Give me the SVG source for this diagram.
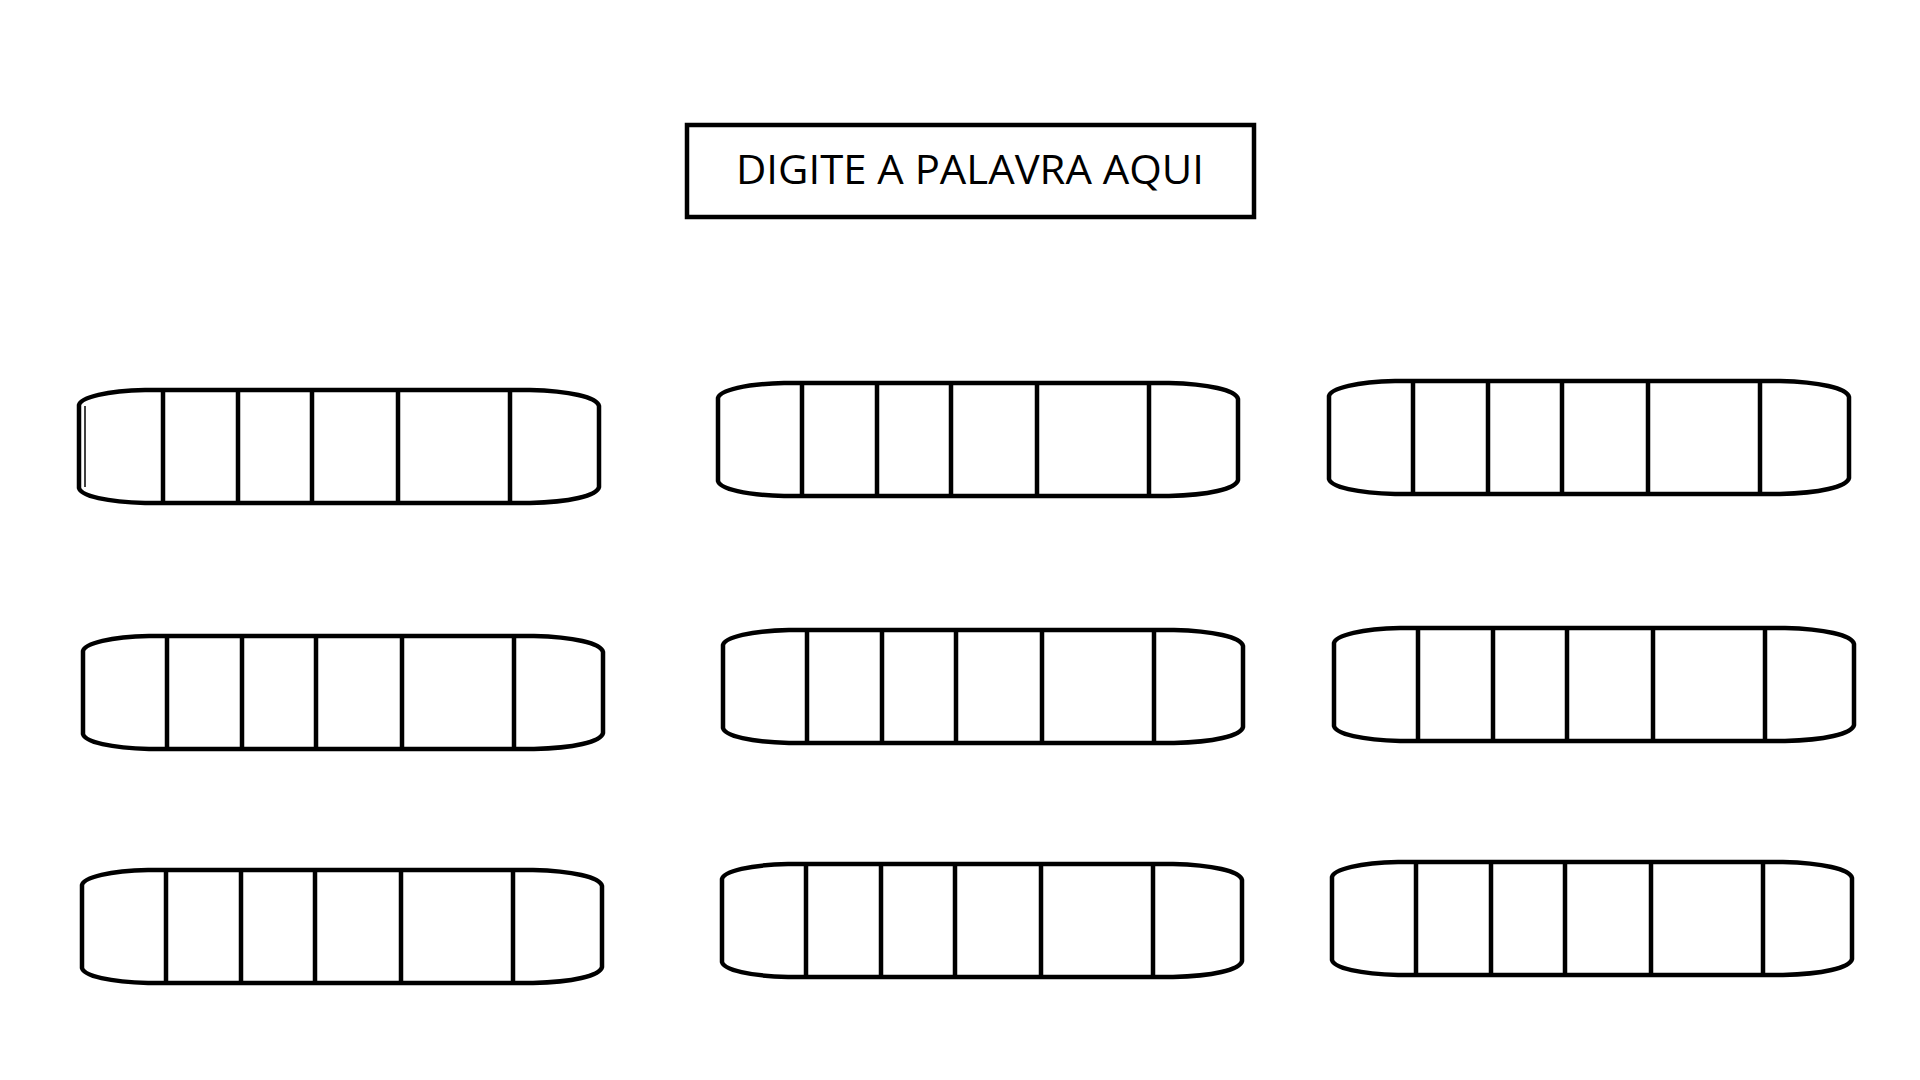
<svg xmlns="http://www.w3.org/2000/svg" xmlns:xlink="http://www.w3.org/1999/xlink" width="1920" height="1080" viewBox="0 0 1920 1080">
<style>
.ln{fill:none;stroke:#000;stroke-width:4.5;stroke-linejoin:miter}
.thin{fill:none;stroke:#000;stroke-width:1.5}
.title{font-family:"Open Sans","Noto Sans",sans-serif;font-size:41px;fill:#000}
</style>
<defs>
<g id="tpl">
<path class="ln" d="M66,0 H451 C490,1 518,7 520,16 V97 C518,106 490,112 451,113 H66 C28,112 2,106 0,98 V15 C2,7 28,1 66,0 Z"/>
<path class="ln" d="M84,0 V113 M159,0 V113 M233,0 V113 M319,0 V113 M431,0 V113"/>
</g>
</defs>
<rect width="1920" height="1080" fill="#fff"/>
<g id="title">
<rect class="ln" x="687" y="125" width="567" height="92"/>
<text class="title" x="736" y="184" textLength="468" lengthAdjust="spacingAndGlyphs">DIGITE A PALAVRA AQUI</text>
</g>
<g id="node-1" transform="translate(79,390)"><use xlink:href="#tpl" href="#tpl"/><line class="thin" x1="6" y1="16" x2="6" y2="97"/></g>
<g id="node-2" transform="translate(718,383)"><use xlink:href="#tpl" href="#tpl"/></g>
<g id="node-3" transform="translate(1329,381)"><use xlink:href="#tpl" href="#tpl"/></g>
<g id="node-4" transform="translate(83,636)"><use xlink:href="#tpl" href="#tpl"/></g>
<g id="node-5" transform="translate(723,630)"><use xlink:href="#tpl" href="#tpl"/></g>
<g id="node-6" transform="translate(1334,628)"><use xlink:href="#tpl" href="#tpl"/></g>
<g id="node-7" transform="translate(82,870)"><use xlink:href="#tpl" href="#tpl"/></g>
<g id="node-8" transform="translate(722,864)"><use xlink:href="#tpl" href="#tpl"/></g>
<g id="node-9" transform="translate(1332,862)"><use xlink:href="#tpl" href="#tpl"/></g>
<g id="connectors"/>
</svg>
